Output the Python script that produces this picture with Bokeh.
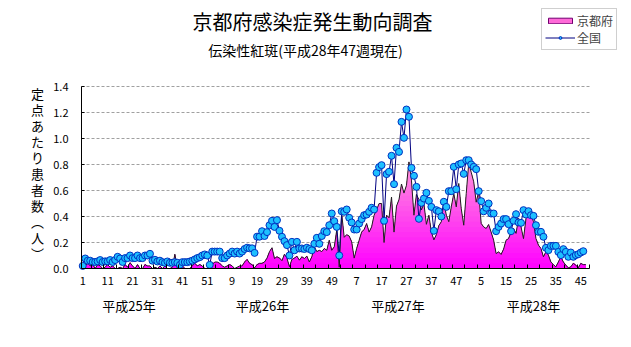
import numpy as np
from bokeh.plotting import figure
from bokeh.models import Range1d, FixedTicker, Label, Legend, LegendItem, NumeralTickFormatter
from bokeh.embed import file_html
from bokeh.resources import INLINE

# ---------------- data (per sentinel, weekly) ----------------
national_2013 = [0.02, 0.077, 0.06, 0.06, 0.05, 0.05, 0.055, 0.065, 0.05, 0.055,
                 0.055, 0.065, 0.05, 0.065, 0.09, 0.077, 0.05, 0.08, 0.08, 0.10,
                 0.08, 0.08, 0.10, 0.08, 0.08, 0.10, 0.10,
                 0.113, 0.06, 0.067, 0.054, 0.06, 0.049, 0.044, 0.054, 0.044, 0.044,
                 0.049, 0.044, 0.028, 0.049, 0.049, 0.049, 0.054, 0.06, 0.07, 0.08,
                 0.087, 0.10, 0.108, 0.10, 0.028]
national_2014 = [0.13, 0.13, 0.13, 0.13,
                 0.08, 0.08, 0.10, 0.115, 0.13, 0.115, 0.13, 0.115, 0.13, 0.15, 0.16, 0.155, 0.155, 0.12,
                 0.245, 0.245, 0.287, 0.25, 0.28, 0.333, 0.367, 0.32, 0.372, 0.29, 0.244, 0.21, 0.18, 0.10,
                 0.205, 0.14, 0.205, 0.154, 0.154, 0.15, 0.16, 0.15, 0.14, 0.19, 0.236, 0.19, 0.25, 0.287,
                 0.28, 0.333, 0.423, 0.364, 0.32, 0.10]
national_2015 = [0.44, 0.436, 0.454, 0.39, 0.354, 0.30, 0.30, 0.346, 0.38, 0.41, 0.415, 0.436, 0.467, 0.454,
                 0.736, 0.78, 0.795, 0.367, 0.726, 0.744, 0.867, 0.649, 0.928, 0.897, 1.128, 1.005, 1.223, 1.167,
                 0.774, 0.713, 0.628, 0.382, 0.505, 0.538, 0.582, 0.52, 0.474, 0.29, 0.449, 0.44, 0.40,
                 0.513, 0.474, 0.595, 0.595, 0.782, 0.61, 0.80, 0.808, 0.728, 0.833, 0.833]
national_2016 = [0.80, 0.782, 0.764, 0.595, 0.518, 0.44, 0.467, 0.50, 0.423, 0.423, 0.287, 0.32, 0.346,
                 0.38, 0.38, 0.341, 0.287, 0.367, 0.418, 0.354, 0.351, 0.449, 0.415, 0.441, 0.41, 0.405,
                 0.333, 0.282, 0.282, 0.244, 0.159, 0.141, 0.174, 0.174, 0.174, 0.128, 0.103, 0.149,
                 0.128, 0.09, 0.123, 0.09, 0.103, 0.11, 0.123, 0.133]

kyoto_2013 = [0.0, 0.02, 0.04, 0.02, 0.03, 0.0, 0.03, 0.02, 0.0, 0.01,
              0.03, 0.01, 0.02, 0.0, 0.0, 0.01, 0.0, 0.03, 0.01, 0.045,
              0.02, 0.0, 0.03, 0.0, 0.0, 0.03, 0.02, 0.02, 0.0, 0.01,
              0.0, 0.02, 0.0, 0.02, 0.0, 0.0, 0.01, 0.11, 0.0, 0.0,
              0.02, 0.0, 0.0, 0.0, 0.02, 0.04, 0.02, 0.03, 0.02, 0.0,
              0.0, 0.0]
kyoto_2014 = [0.03, 0.05, 0.05, 0.04, 0.02, 0.01, 0.02, 0.03, 0.02, 0.0,
              0.01, 0.02, 0.02, 0.05, 0.07, 0.04, 0.03, 0.005, 0.03, 0.04,
              0.04, 0.05, 0.08, 0.13, 0.16, 0.077, 0.09, 0.08, 0.06, 0.11,
              0.08, 0.013, 0.07, 0.08, 0.095, 0.064, 0.09, 0.077, 0.095, 0.05,
              0.09, 0.167, 0.13, 0.14, 0.13, 0.154, 0.14, 0.218, 0.14, 0.167, 0.295, 0.01]
kyoto_2015 = [0.42, 0.24, 0.26, 0.25, 0.205, 0.08, 0.154, 0.218, 0.28, 0.30,
              0.346, 0.28, 0.32, 0.41, 0.45, 0.50, 0.50, 0.20, 0.41, 0.39,
              0.55, 0.28, 0.48, 0.53, 0.65, 0.58, 0.64, 0.82, 0.68, 0.41,
              0.57, 0.53, 0.45, 0.50, 0.34, 0.41, 0.28, 0.22, 0.26, 0.33,
              0.36, 0.51, 0.41, 0.36, 0.474, 0.577, 0.474, 0.654, 0.46, 0.333, 0.577, 0.81]
kyoto_2016 = [0.74, 0.667, 0.51, 0.59, 0.346, 0.32, 0.308, 0.338, 0.28, 0.218,
              0.115, 0.128, 0.108, 0.149, 0.218, 0.23, 0.28, 0.308, 0.27, 0.385,
              0.32, 0.23, 0.385, 0.41, 0.415, 0.36, 0.23, 0.18, 0.154, 0.09,
              0.128, 0.103, 0.05, 0.03, 0.013, 0.05, 0.09, 0.05, 0.026, 0.005,
              0.013, 0.04, 0.026, 0.005, 0.04, 0.03, 0.03]

tick_positions = [1, 11, 21, 31, 41, 51, 61, 71, 81, 91, 101, 111, 121, 131, 141, 151, 161, 171, 181, 191, 201]
tick_labels = ["1", "11", "21", "31", "41", "51", "9", "19", "29", "39", "49",
               "7", "17", "27", "37", "47", "5", "15", "25", "35", "45"]
year_labels = ["平成25年", "平成26年", "平成27年", "平成28年"]
year_label_pos = [19.6, 73.2, 127.6, 182.0]
y_ticks = [0.0, 0.2, 0.4, 0.6, 0.8, 1.0, 1.2, 1.4]

title_text = "京都府感染症発生動向調査"
subtitle_text = "伝染性紅斑(平成28年47週現在)"
ylabel_chars = ["定", "点", "あ", "た", "り", "患", "者", "数", "︵", "人", "︶"]

# ---------------- assemble ----------------
kyoto = np.array(kyoto_2013 + kyoto_2014 + kyoto_2015 + kyoto_2016)
national = np.array(national_2013 + national_2014 + national_2015 + national_2016)
xk = np.arange(1, len(kyoto) + 1)
xn = np.arange(1, len(national) + 1)

FONT = "Noto Sans CJK JP"
W, H = 631, 347
# data window: categories 0.5..204.5 -> px 81..589 ; value 0..1.4 -> px 268..86
XA, XB, PXA, PXB = 0.5, 204.5, 81.0, 589.0
YA, YB, PYA, PYB = 0.0, 1.4, 268.0, 86.0
sx = (PXB - PXA) / (XB - XA)
sy = (PYA - PYB) / (YB - YA)
x_start = XA - PXA / sx
x_end = x_start + W / sx
y_start = YA - (H - PYA) / sy
y_end = y_start + H / sy


def dx(px):
    return XA + (px - PXA) / sx


def dy(py):
    return (PYA - py) / sy


p = figure(width=W, height=H, x_range=Range1d(x_start, x_end), y_range=Range1d(y_start, y_end),
           output_backend="svg", toolbar_location=None,
           min_border=0, min_border_left=0, min_border_right=0, min_border_top=0, min_border_bottom=0)
p.outline_line_color = None
p.background_fill_color = "white"
p.border_fill_color = "white"
p.xgrid.visible = False
p.ygrid.visible = False

# horizontal dashed grid lines over the plot area only
gy = np.array(y_ticks[1:])
p.segment(x0=np.full(len(gy), XA), x1=np.full(len(gy), XB), y0=gy, y1=gy,
          line_color="#a0a0a0", line_dash="3 2", line_width=1)

# gradient-filled area for Kyoto (painted from top band down)
def band_color(v):
    t = min(v / 0.9, 1.0)
    g = int(round(t * 165))
    b = int(round(255 - t * 40))
    return "#%02x%02x%02x" % (255, g, b)

tops = np.round(np.arange(1.40, 0.0, -0.04), 3)
for hi in tops:
    p.varea(x=xk, y1=np.zeros(len(kyoto)), y2=np.minimum(kyoto, hi),
            fill_color=band_color(hi - 0.02), fill_alpha=1.0)
p.line(xk, kyoto, line_color="#202020", line_width=1)

# national
nat_line = p.line(xn, national, line_color="#000080", line_width=1)
nat_pts = p.scatter(xn, national, size=7, marker="circle", fill_color="#1ec0ff",
                    line_color="#0030c0", line_width=1)

# legend swatch for Kyoto (a bar placed outside the visible window)
k_dummy = p.quad(left=[x_start - 50], right=[x_start - 40], top=[y_start - 5], bottom=[y_start - 6],
                 fill_color="#ff6ad8", line_color="#700070", line_width=1)

legend = Legend(items=[LegendItem(label="京都府", renderers=[k_dummy]),
                       LegendItem(label="全国", renderers=[nat_line, nat_pts])],
                location=(541, H - 50), orientation="vertical",
                label_text_font=FONT, label_text_font_size="12px",
                glyph_width=30, glyph_height=7, label_height=14, spacing=0,
                padding=3, margin=0, label_standoff=2,
                border_line_color="#a0a0a0", background_fill_color="white", background_fill_alpha=1.0)
p.add_layout(legend, "center")

# axes (fixed inside the frame)
p.xaxis.fixed_location = 0.0
p.xaxis.bounds = (XA, XB)
p.xaxis.ticker = FixedTicker(ticks=tick_positions,
                             minor_ticks=[4.5 + 5 * k for k in range(41)])
p.xaxis.major_label_overrides = {pos: lab for pos, lab in zip(tick_positions, tick_labels)}
p.xaxis.major_tick_in = 0
p.xaxis.major_tick_out = 0
p.xaxis.minor_tick_in = 4
p.xaxis.minor_tick_out = 0
p.xaxis.minor_tick_line_color = "black"
p.xaxis.axis_line_color = "black"
p.xaxis.major_label_standoff = 8
p.xaxis.major_label_text_font = FONT
p.xaxis.major_label_text_font_size = "11px"
p.xaxis.major_label_text_color = "black"

p.yaxis.fixed_location = XA
p.yaxis.bounds = (YA, YB)
p.yaxis.ticker = FixedTicker(ticks=y_ticks)
p.yaxis.formatter = NumeralTickFormatter(format="0.0")
p.yaxis.major_tick_in = 3
p.yaxis.major_tick_out = 0
p.yaxis.minor_tick_line_color = None
p.yaxis.axis_line_color = "black"
p.yaxis.major_label_standoff = 13
p.yaxis.major_label_text_font = FONT
p.yaxis.major_label_text_font_size = "11px"
p.yaxis.major_label_text_color = "black"

# titles
p.add_layout(Label(x=dx(312), y=dy(21), text=title_text, text_font=FONT, text_font_size="20px",
                   text_align="center", text_baseline="middle", text_color="black"))
p.add_layout(Label(x=dx(305), y=dy(49), text=subtitle_text, text_font=FONT, text_font_size="14px",
                   text_align="center", text_baseline="middle", text_color="black"))

# vertical y-axis title
for k, ch in enumerate(ylabel_chars):
    ypix = 93 + 16 * k
    p.add_layout(Label(x=dx(37), y=dy(ypix), text=ch, text_font=FONT,
                       text_font_size="13px", text_align="center", text_baseline="middle",
                       text_color="black"))

# year labels
for pos, lab in zip(year_label_pos, year_labels):
    p.add_layout(Label(x=pos, y=dy(305), text=lab, text_font=FONT, text_font_size="13px",
                       text_align="center", text_baseline="middle", text_color="black"))

open("out.html", "w").write(file_html(p, INLINE))
